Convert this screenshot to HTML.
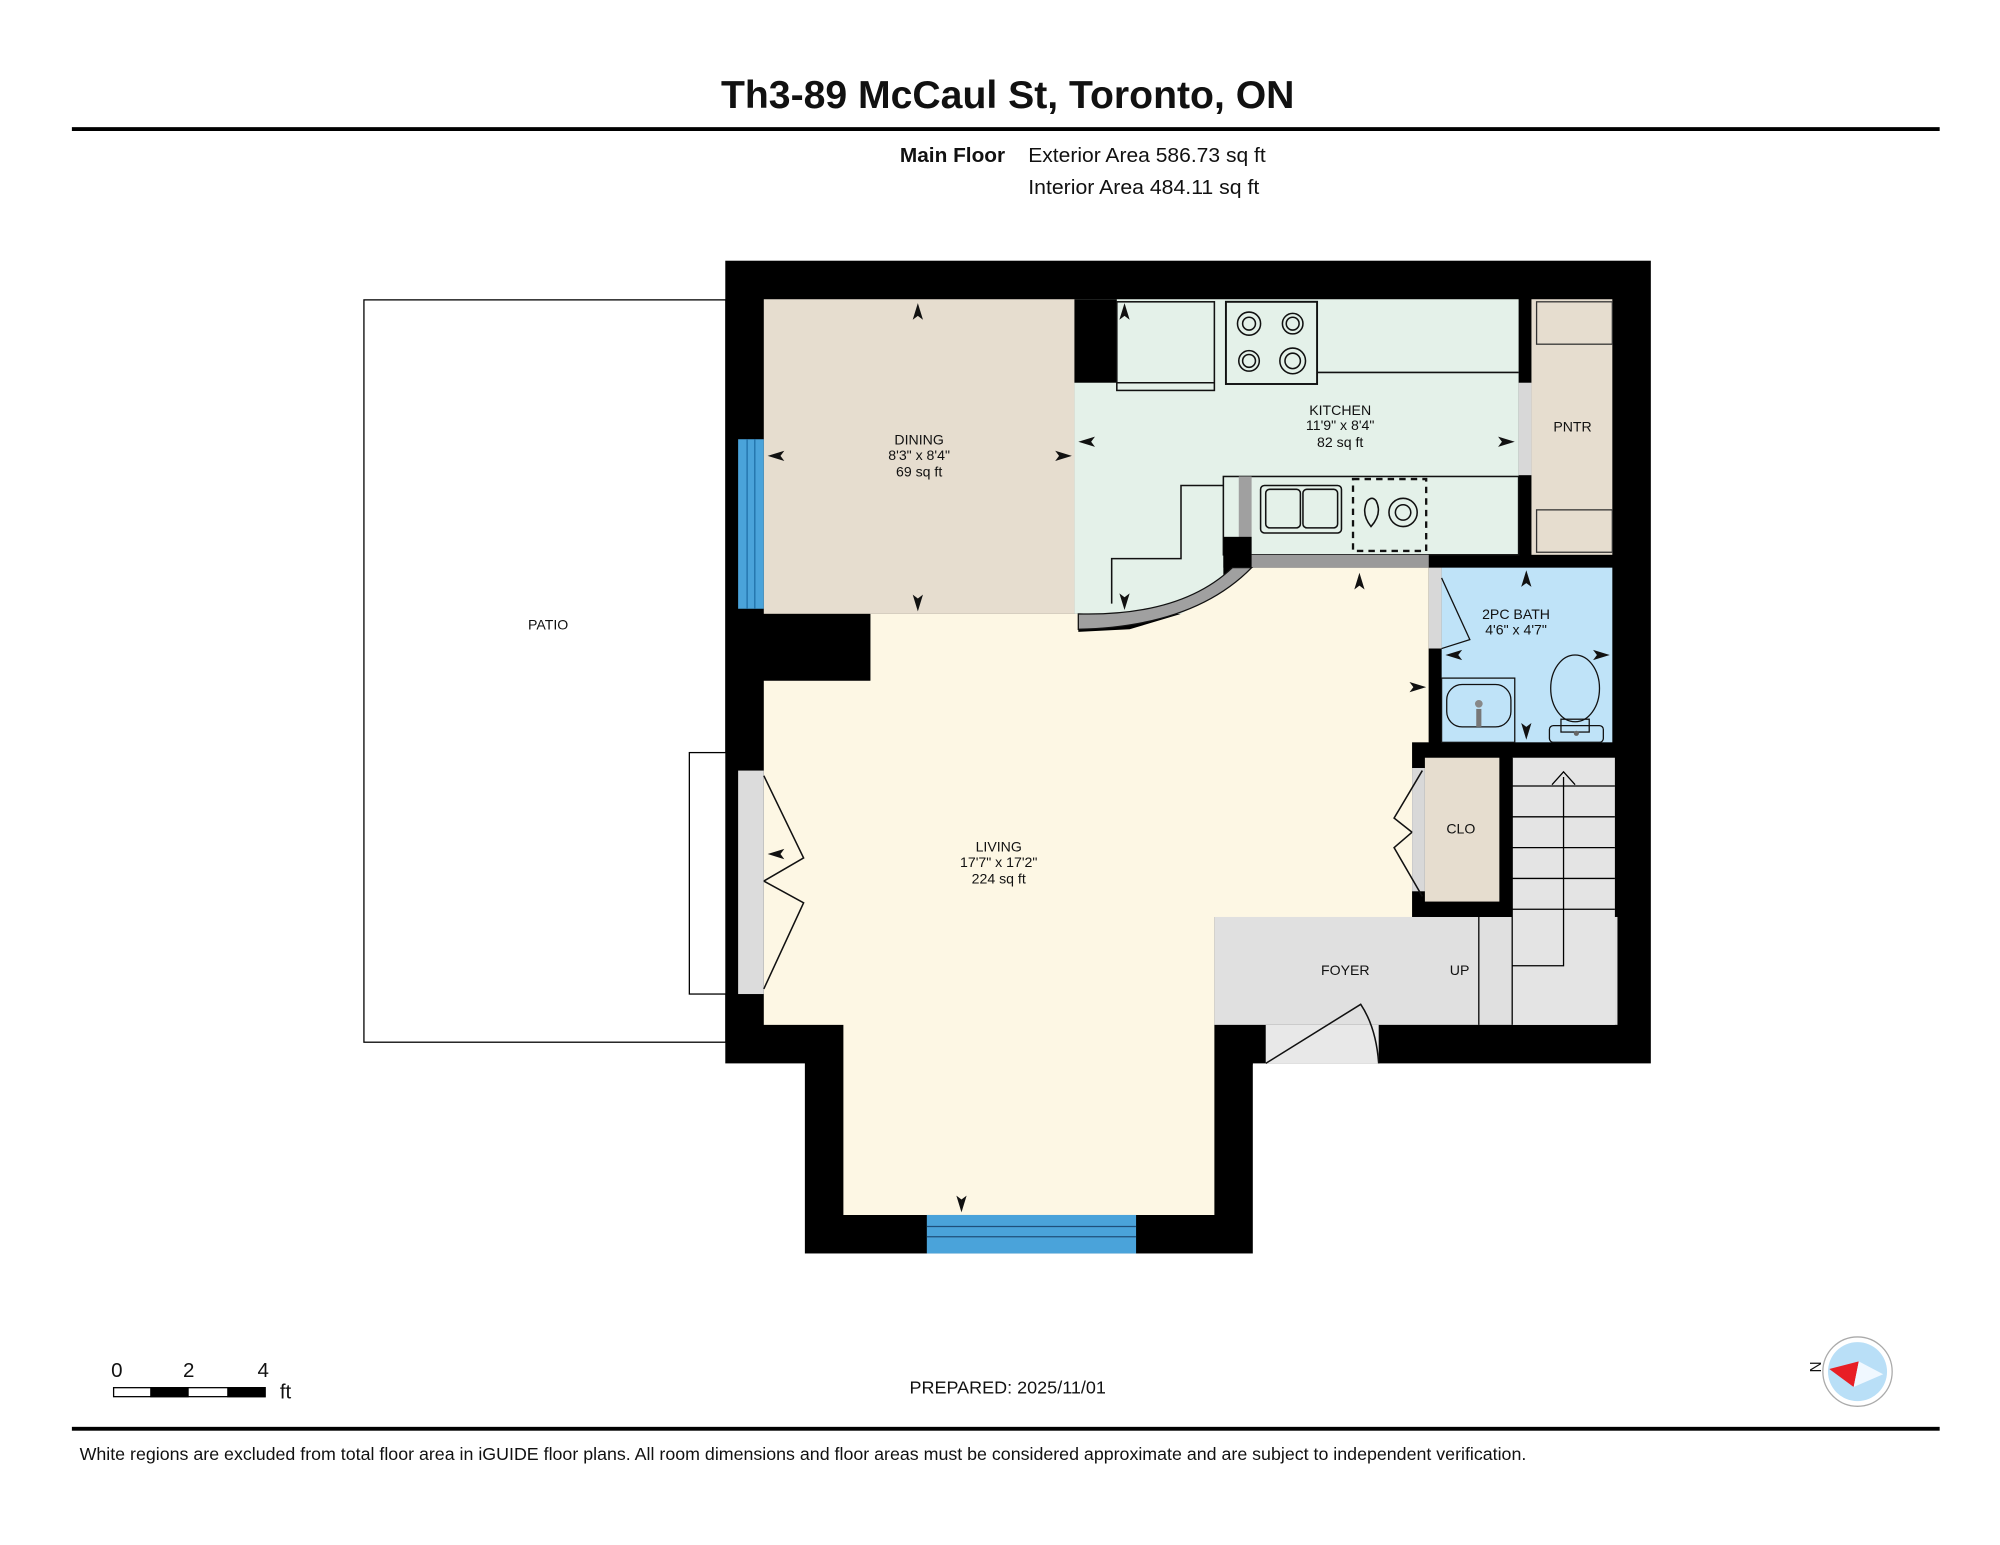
<!DOCTYPE html>
<html><head><meta charset="utf-8"><style>
html,body{margin:0;padding:0;background:#fff}
svg{display:block}
text{font-family:"Liberation Sans",Arial,sans-serif;fill:#111}
</style></head><body>
<svg width="2000" height="1545" viewBox="0 0 1558 1203" preserveAspectRatio="none" xmlns="http://www.w3.org/2000/svg">
<rect width="1558" height="1203" fill="#fff"/>
<text x="785" y="84" font-size="30.5" font-weight="bold" text-anchor="middle">Th3-89 McCaul St, Toronto, ON</text>
<rect x="56" y="99" width="1455" height="3" fill="#000"/>
<text x="783" y="126" font-size="16" font-weight="bold" text-anchor="end" textLength="82" lengthAdjust="spacingAndGlyphs">Main Floor</text>
<text x="801" y="126" font-size="16" textLength="185" lengthAdjust="spacingAndGlyphs">Exterior Area 586.73 sq ft</text>
<text x="801" y="151" font-size="16" textLength="180" lengthAdjust="spacingAndGlyphs">Interior Area 484.11 sq ft</text>

<!-- patio -->
<rect x="283.5" y="233.5" width="282" height="578" fill="#fff" stroke="#000" stroke-width="1"/>
<text x="427" y="490" font-size="11" text-anchor="middle">PATIO</text>
<rect x="537" y="586" width="38" height="188" fill="#fff" stroke="#000" stroke-width="1"/>

<!-- building black base -->
<rect x="565" y="203" width="721" height="625" fill="#000"/>
<rect x="627" y="800" width="349" height="176" fill="#000"/>
<rect x="976" y="829" width="320" height="160" fill="#fff"/>

<!-- dining -->
<rect x="595" y="233" width="242" height="245" fill="#e6ddcf"/>
<!-- kitchen -->
<rect x="837" y="233" width="346" height="199" fill="#e4f1e9"/>
<rect x="837" y="298" width="116" height="180" fill="#e4f1e9"/>
<rect x="837" y="233" width="33" height="65" fill="#000"/>
<!-- living -->
<polygon points="595,530 678,530 678,478 840,478 840,492 880,490 920,478 960,455 975,442 1113,442 1113,714 946,714 946,946 657,946 657,798 595,798" fill="#fdf7e4"/>
<rect x="575" y="478" width="103" height="52" fill="#000"/>
<rect x="575" y="600" width="20" height="174" fill="#dcdcdc"/>
<rect x="575" y="342" width="20" height="132" fill="#4aa3da"/>
<line x1="582" y1="342" x2="582" y2="474" stroke="#1f6fa8" stroke-width="1"/>
<line x1="588" y1="342" x2="588" y2="474" stroke="#1f6fa8" stroke-width="1"/>
<rect x="722" y="946" width="163" height="30" fill="#4aa3da"/>
<line x1="722" y1="955" x2="885" y2="955" stroke="#1f4f7a" stroke-width="1"/>
<line x1="722" y1="963" x2="885" y2="963" stroke="#1f4f7a" stroke-width="1"/>
<!-- foyer -->
<rect x="946" y="714" width="314" height="84" fill="#e0e0e0"/>
<rect x="986" y="798" width="88" height="30" fill="#e8e8e8"/>
<!-- stairs -->
<rect x="1178" y="590" width="80" height="208" fill="#e4e4e4"/>
<g stroke="#000" stroke-width="1">
<line x1="1178" y1="612" x2="1258" y2="612"/><line x1="1178" y1="636" x2="1258" y2="636"/>
<line x1="1178" y1="660" x2="1258" y2="660"/><line x1="1178" y1="684" x2="1258" y2="684"/>
<line x1="1178" y1="708" x2="1258" y2="708"/>
<line x1="1178" y1="590" x2="1178" y2="798"/><line x1="1152" y1="714" x2="1152" y2="798"/>
<polyline points="1218,605 1218,752 1178,752" fill="none"/>
<polyline points="1209,611 1218,601 1227,611" fill="none"/>
</g>
<!-- bath -->
<rect x="1123" y="442" width="133" height="136" fill="#bfe3f8"/>
<rect x="1113" y="442" width="10" height="63" fill="#d8d8d8"/>
<rect x="1113" y="505" width="10" height="73" fill="#000"/>
<!-- clo -->
<rect x="1100" y="578" width="78" height="136" fill="#000"/>
<rect x="1110" y="590" width="58" height="112" fill="#e6ddcf"/>
<rect x="1100" y="598" width="10" height="96" fill="#d8d8d8"/>
<!-- pantry -->
<rect x="1193" y="233" width="63" height="199" fill="#e6ddcf"/>
<rect x="1183" y="298" width="10" height="72" fill="#d8d8d8"/>
<rect x="1197" y="235" width="59" height="33" fill="none" stroke="#333" stroke-width="1"/>
<rect x="1197" y="397" width="59" height="33" fill="none" stroke="#333" stroke-width="1"/>

<!-- kitchen fixtures -->
<g stroke="#111" stroke-width="1.2" fill="none">
<rect x="870" y="235" width="76" height="69"/>
<line x1="870" y1="298" x2="946" y2="298"/>
<rect x="955" y="235" width="71" height="64" stroke-width="1.5"/>
<circle cx="973" cy="252" r="9"/><circle cx="973" cy="252" r="5"/>
<circle cx="1007" cy="252" r="8"/><circle cx="1007" cy="252" r="5"/>
<circle cx="973" cy="281" r="8"/><circle cx="973" cy="281" r="5"/>
<circle cx="1007" cy="281" r="10"/><circle cx="1007" cy="281" r="6"/>
<line x1="1026" y1="290" x2="1183" y2="290"/>
<rect x="953" y="371" width="230" height="61"/>
<rect x="982" y="378" width="63" height="37" rx="3"/>
<rect x="986" y="381" width="27" height="30" rx="3"/><rect x="1015" y="381" width="27" height="30" rx="3"/>
<rect x="1054" y="373" width="57" height="56" stroke-dasharray="5,4" stroke-width="1.8"/>
<path d="M1068 410 q-8 -10 -3 -20 q4 -4 7 0 q5 10 -4 20z"/>
<circle cx="1093" cy="399" r="11"/><circle cx="1093" cy="399" r="6"/>
<polyline points="866,470 866,435 920,435 920,378 953,378"/>
</g>
<rect x="965" y="371" width="10" height="61" fill="#a0a0a0"/>
<rect x="953" y="418" width="22" height="24" fill="#000"/>
<rect x="975" y="432" width="138" height="10" fill="#9a9a9a"/>
<path d="M840 478 Q920 480 960 442 L975 442 Q930 488 840 490 Z" fill="#a0a0a0" stroke="#111" stroke-width="1"/>

<!-- bath fixtures -->
<g stroke="#111" stroke-width="1" fill="none">
<rect x="1123" y="528" width="57" height="50"/>
<rect x="1127" y="533" width="50" height="33" rx="12"/>
<ellipse cx="1227" cy="536" rx="19" ry="26"/>
<rect x="1216" y="560" width="22" height="10"/>
<rect x="1207" y="565" width="42" height="13" rx="3"/>
<polyline points="1123,450 1145,498 1123,505"/>
</g>
<circle cx="1152" cy="548" r="3" fill="#888"/><rect x="1150" y="552" width="4" height="14" fill="#777"/>
<circle cx="1228" cy="571" r="2" fill="#666"/>

<!-- doors -->
<g stroke="#111" stroke-width="1.2" fill="none">
<polyline points="595,604 626,668 595,686"/>
<polyline points="595,770 626,703 595,686"/>
<polyline points="1108,600 1086,637 1100,648"/>
<polyline points="1108,698 1086,660 1100,648"/>
<path d="M986 828 L1060 782 Q1072 800 1074 828"/>
</g>

<!-- arrowheads -->
<g fill="#111">
<polygon points="715,236 711,249 715,246 719,249"/>
<polygon points="715,476 711,463 715,466 719,463"/>
<polygon points="598,355 611,351 608,355 611,359"/>
<polygon points="835,355 822,351 825,355 822,359"/>
<polygon points="840,344 853,340 850,344 853,348"/>
<polygon points="1180,344 1167,340 1170,344 1167,348"/>
<polygon points="876,236 872,249 876,246 880,249"/>
<polygon points="876,475 872,462 876,465 880,462"/>
<polygon points="1059,446 1055,459 1059,456 1063,459"/>
<polygon points="1189,444 1185,457 1189,454 1193,457"/>
<polygon points="1189,576 1185,563 1189,566 1193,563"/>
<polygon points="1126,510 1139,506 1136,510 1139,514"/>
<polygon points="1254,510 1241,506 1244,510 1241,514"/>
<polygon points="1111,535 1098,531 1101,535 1098,539"/>
<polygon points="598,665 611,661 608,665 611,669"/>
<polygon points="749,944 745,931 749,934 753,931"/>
</g>

<!-- labels -->
<g font-size="11" text-anchor="middle">
<text x="716" y="346">DINING</text><text x="716" y="358">8'3" x 8'4"</text><text x="716" y="371">69 sq ft</text>
<text x="1044" y="323">KITCHEN</text><text x="1044" y="335">11'9" x 8'4"</text><text x="1044" y="348">82 sq ft</text>
<text x="1225" y="336">PNTR</text>
<text x="1181" y="482">2PC BATH</text><text x="1181" y="494">4'6" x 4'7"</text>
<text x="1138" y="649">CLO</text>
<text x="778" y="663">LIVING</text><text x="778" y="675">17'7" x 17'2"</text><text x="778" y="688">224 sq ft</text>
<text x="1048" y="759">FOYER</text><text x="1137" y="759">UP</text>
</g>

<!-- scale -->
<rect x="88.5" y="1080.5" width="118" height="7" fill="#fff" stroke="#000" stroke-width="1"/>
<rect x="117" y="1080" width="30" height="8" fill="#000"/>
<rect x="177" y="1080" width="30" height="8" fill="#000"/>
<g font-size="16"><text x="91" y="1072" text-anchor="middle">0</text><text x="147" y="1072" text-anchor="middle">2</text><text x="205" y="1072" text-anchor="middle">4</text><text x="218" y="1089">ft</text></g>
<text x="785" y="1085" font-size="14" text-anchor="middle" textLength="153" lengthAdjust="spacingAndGlyphs">PREPARED: 2025/11/01</text>
<!-- compass -->
<circle cx="1447" cy="1068" r="27" fill="#fff" stroke="#aaa" stroke-width="1"/>
<circle cx="1447" cy="1068" r="23" fill="#b9dff7"/>
<polygon points="1425,1066 1448,1060 1444,1080" fill="#e81e25"/>
<polygon points="1448,1060 1467,1070 1444,1080" fill="#f0f8ff"/>
<text x="1412" y="1062" font-size="12" transform="rotate(90 1412 1060)">N</text>

<rect x="56" y="1111" width="1455" height="3" fill="#000"/>
<text x="62" y="1137" font-size="14" textLength="1127" lengthAdjust="spacingAndGlyphs">White regions are excluded from total floor area in iGUIDE floor plans. All room dimensions and floor areas must be considered approximate and are subject to independent verification.</text>
</svg>
</body></html>
